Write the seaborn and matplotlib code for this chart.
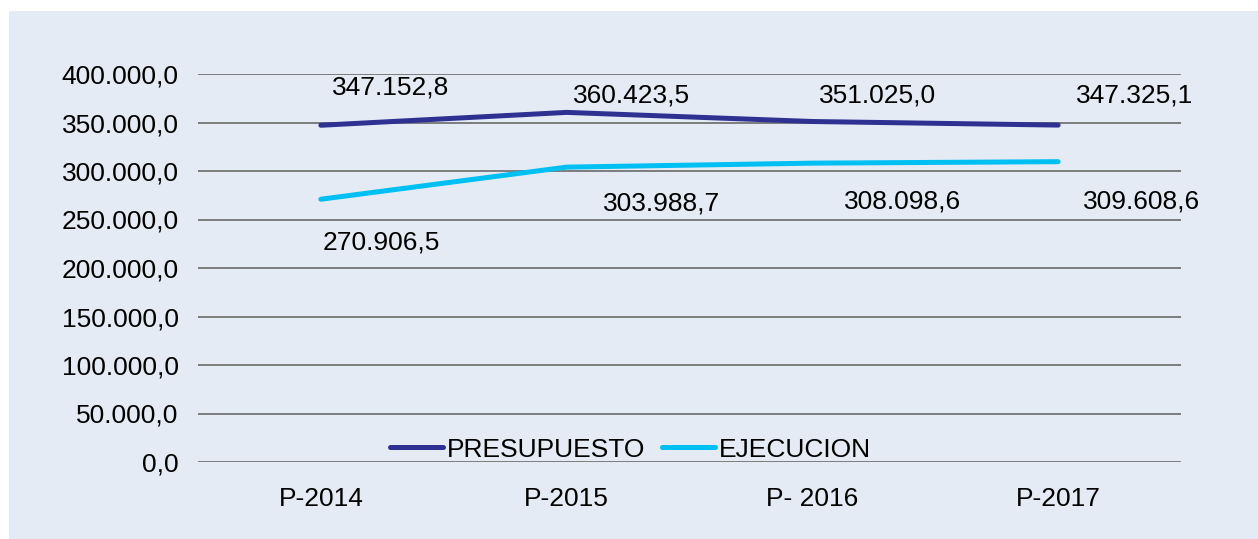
import numpy as np
import pandas as pd
import matplotlib
matplotlib.use('Agg')
import matplotlib.pyplot as plt
import seaborn as sns
from matplotlib.patches import Rectangle

# datos del gráfico
periodos = ['P-2014', 'P-2015', 'P- 2016', 'P-2017']
presupuesto = [347152.8, 360423.5, 351025.0, 347325.1]
ejecucion = [270906.5, 303988.7, 308098.6, 309608.6]
series = ['PRESUPUESTO', 'EJECUCION']
colores = ['#2E3192', '#00BFF3']

df = pd.DataFrame({
    'periodo': periodos * 2,
    'valor': presupuesto + ejecucion,
    'serie': [series[0]] * 4 + [series[1]] * 4,
})


def fmt(v):
    # formato español: punto para miles, coma para decimales
    s = f'{v:,.1f}'
    return s.replace(',', 'X').replace('.', ',').replace('X', '.')


sns.set_style('white')
plt.rcParams['font.family'] = ['Liberation Sans', 'DejaVu Sans']
plt.rcParams['text.color'] = 'black'

fig = plt.figure(figsize=(12.58, 5.39), dpi=100)
fig.patch.set_facecolor('white')
fig.patches.append(Rectangle((9 / 1258, 0), 1 - 9 / 1258, 1 - 11 / 539,
                             transform=fig.transFigure, facecolor='#E4EBF4',
                             edgecolor='none', zorder=-10))
ax = fig.add_axes([198 / 1258, 1 - 462 / 539, 983 / 1258, 388 / 539])
ax.set_facecolor('none')

sns.lineplot(data=df, x='periodo', y='valor', hue='serie', palette=colores,
             linewidth=3.6, sort=False, ax=ax, solid_capstyle='round')

ax.set_xlim(-0.5, 3.5)
ax.set_ylim(0, 400000)
ax.set_yticks(np.arange(0, 400001, 50000))
ax.set_yticklabels([fmt(v) for v in np.arange(0, 400001, 50000)])
ax.grid(axis='y', color='#747474', linewidth=1.3)
ax.set_axisbelow(True)
for s in ax.spines.values():
    s.set_visible(False)
ax.tick_params(axis='both', length=0, labelsize=19, colors='black')
ax.tick_params(axis='y', pad=14)
ax.tick_params(axis='x', pad=18)
ax.set_xlabel('')
ax.set_ylabel('')

# etiquetas de datos (desplazamientos en píxeles)
off_p = [(70, 38), (65, 17), (65, 26), (76, 30)]
off_e = [(60, -43), (95, -36), (90, -38), (83, -40)]
for i in range(4):
    ax.annotate(fmt(presupuesto[i]), (i, presupuesto[i]), xytext=off_p[i],
                textcoords='offset pixels', ha='center', va='center',
                fontsize=19, color='black')
    ax.annotate(fmt(ejecucion[i]), (i, ejecucion[i]), xytext=off_e[i],
                textcoords='offset pixels', ha='center', va='center',
                fontsize=19, color='black')

leg = ax.legend(loc='lower center', bbox_to_anchor=(0.44, -0.06), ncol=2,
                frameon=False, fontsize=19, handlelength=2.0, handletextpad=0.15,
                columnspacing=0.65)
for line in leg.get_lines():
    line.set_linewidth(3.6)
for t in leg.get_texts():
    t.set_color('black')

fig.savefig('out.png', dpi=100)
